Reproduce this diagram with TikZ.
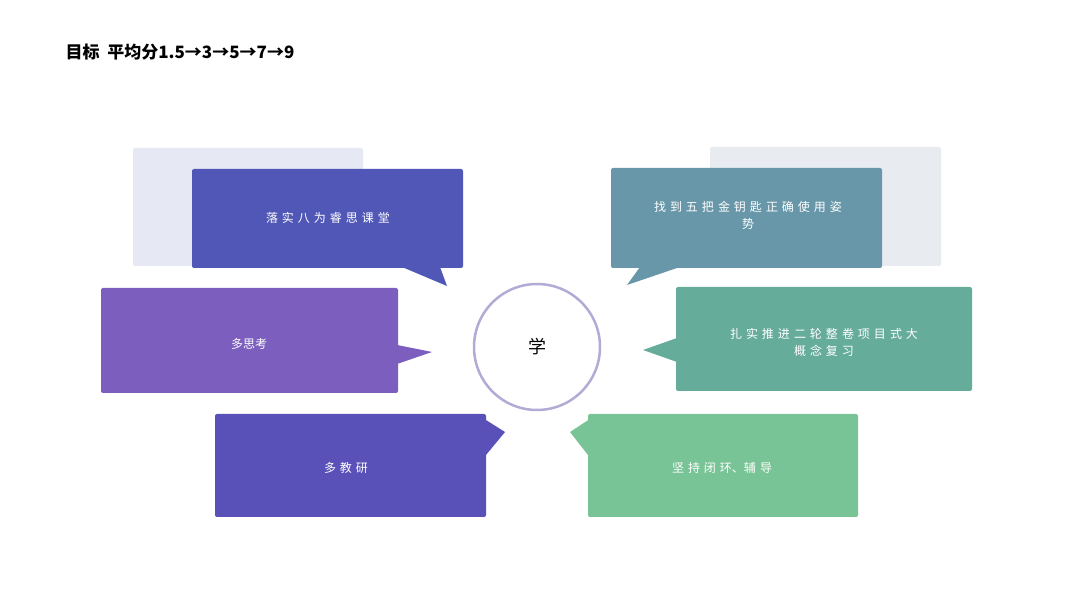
\documentclass[tikz,border=0pt]{standalone}
\usepackage{fontspec}
\newfontfamily\cjk{Noto Sans CJK SC}
\begin{document}
\begin{tikzpicture}[x=1pt,y=-1pt,
  bx/.style={rounded corners=2pt},
  lbl/.style={text=white,font=\cjk\fontsize{12}{17}\selectfont,align=center,text width=#1},
  lbl/.default=170pt]
\definecolor{cA}{HTML}{5057B6}\definecolor{cB}{HTML}{7B5EBE}\definecolor{cC}{HTML}{5A51B8}
\definecolor{cD}{HTML}{6797A8}\definecolor{cE}{HTML}{66AC9B}\definecolor{cF}{HTML}{79C497}
\useasboundingbox (0,0) rectangle (1080,601);
\fill[white] (0,0) rectangle (1080,601);
\node[anchor=west,font=\cjk\bfseries\fontsize{17}{20}\selectfont] (title) at (62,52) {目标\ \ 平均分1.5→3→5→7→9};
% left
\fill[bx,fill={rgb,255:red,230;green,232;blue,244}] (133,148) rectangle (363,266);
\fill[bx,cA] (192,169) rectangle (463,268);
\fill[cA] (402,267) -- (440,267) -- (447,286) -- cycle;
\node[lbl] (t1) at (328,218) {落 实 八 为 睿 思 课 堂};
\fill[bx,cB] (101,288) rectangle (398,393);
\fill[cB] (397,345) -- (397,364) -- (432,352) -- cycle;
\node[lbl] (t2) at (249,344) {多思考};
\fill[bx,cC] (215,414) rectangle (486,517);
\fill[cC] (478,415) -- (486,455) -- (505,432) -- cycle;
\node[lbl] (t3) at (346,468) {多 教 研};
% circle
\node[circle,draw={rgb,255:red,179;green,171;blue,214},line width=2.5pt,minimum size=126pt,font=\cjk\fontsize{18}{20}\selectfont] (c) at (537,347) {学};
% right
\fill[bx,fill={rgb,255:red,232;green,236;blue,241}] (710,147) rectangle (941,266);
\fill[bx,cD] (611,168) rectangle (882,268);
\fill[cD] (640,267) -- (680,267) -- (627,285) -- cycle;
\node[lbl=230pt] (t4) at (748,215) {找 到 五 把 金 钥 匙 正 确 使 用 姿\\势};
\fill[bx,cE] (676,287) rectangle (972,391);
\fill[cE] (677,338) -- (677,362) -- (643,350) -- cycle;
\node[lbl=240pt] (t5) at (824,342) {扎 实 推 进 二 轮 整 卷 项 目 式 大\\概 念 复 习};
\fill[bx,cF] (588,414) rectangle (858,517);
\fill[cF] (596,415) -- (588,455) -- (570,432) -- cycle;
\node[lbl] (t6) at (722,468) {坚 持 闭 环、辅 导};
\end{tikzpicture}
\end{document}
